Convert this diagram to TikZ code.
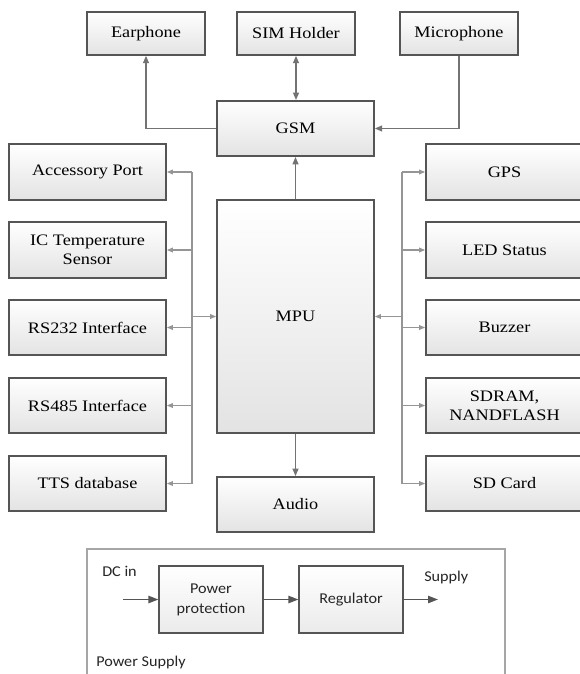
\documentclass[tikz,border=0pt]{standalone}
\usepackage{fontspec}
\usepackage{graphicx}
\setmainfont{Liberation Serif}
\newfontfamily\boxfont{Liberation Serif}
\newfontfamily\psfont{Carlito}
\newcommand\sx[1]{\scalebox{1.14}[1]{#1}}
\newcommand\px[1]{\scalebox{1.08}[1]{#1}}
\usetikzlibrary{arrows.meta}
\definecolor{bdr}{HTML}{555555}
\definecolor{linec}{HTML}{737373}
\definecolor{busc}{HTML}{959595}
\definecolor{frame}{HTML}{A6A6A6}
\definecolor{txt}{HTML}{000000}
\definecolor{pstxt}{HTML}{262626}
\tikzset{
  box/.style={draw=bdr, line width=1.3pt, top color=white, bottom color=black!11,
    text=txt, font=\boxfont\fontsize{12}{14.25}\selectfont, align=center, inner sep=0pt,
    minimum width=117.75pt, minimum height=41.5pt},
  topbox/.style={box, minimum width=88.5pt, minimum height=32.25pt},
  mpubox/.style={box, minimum height=174.75pt},
  psbox/.style={draw=bdr, line width=0.9pt, top color=white, bottom color=black!8,
    text=pstxt, font=\psfont\fontsize{11.25}{15}\selectfont, align=center, inner sep=0pt,
    minimum width=78pt, minimum height=50.25pt},
  psframe/.style={draw=frame, line width=0.8pt, fill=white, inner sep=0pt,
    minimum width=313.5pt, minimum height=98.25pt},
  pslabel/.style={text=pstxt, font=\psfont\fontsize{11.25}{15}\selectfont, inner sep=0pt},
  arr/.style={draw=linec, line width=0.9pt, -{Triangle[length=5.5pt,width=4.5pt]}},
  dblarr/.style={draw=linec, line width=0.9pt, {Triangle[length=5.5pt,width=4.5pt]}-{Triangle[length=5.5pt,width=4.5pt]}},
  busarr/.style={draw=busc, line width=0.9pt, -{Triangle[length=4.5pt,width=3.5pt]}},
  bus/.style={draw=busc, line width=0.9pt},
  psarr/.style={draw=bdr, line width=1.1pt, -{Triangle[length=7.5pt,width=5.5pt]}}
}
\begin{document}
\begin{tikzpicture}[x=0.75pt,y=-0.75pt]
\useasboundingbox (0,0) rectangle (580,674);
\clip (0,0) rectangle (580,674);

% top row
\node[topbox] (ear) at (146,33.5) {\sx{Earphone}};
\node[topbox] (sim) at (296,33.5) {\sx{SIM Holder}};
\node[topbox] (mic) at (459,33.5) {\sx{Microphone}};
\node[box] (gsm) at (295.5,128.5) {\sx{GSM}};

% left column
\node[box] (acc) at (87.5,172) {\sx{Accessory Port}};
\node[box] (ict) at (87.5,250) {\sx{IC Temperature}\\\sx{Sensor}};
\node[box] (rs2) at (87.5,327.5) {\sx{RS232 Interface}};
\node[box] (rs4) at (87.5,405.5) {\sx{RS485 Interface}};
\node[box] (tts) at (87.5,483.5) {\sx{TTS database}};

% right column
\node[box] (gps) at (504.5,172) {\sx{GPS}};
\node[box] (led) at (504.5,250) {\sx{LED Status}};
\node[box] (buz) at (504.5,327.5) {\sx{Buzzer}};
\node[box] (sdr) at (504.5,405.5) {\sx{SDRAM,}\\\sx{NANDFLASH}};
\node[box] (sdc) at (504.5,483.5) {\sx{SD Card}};

% centre
\node[mpubox] (mpu) at (295.5,316.5) {\sx{MPU}};
\node[box] (aud) at (295.5,504.5) {\sx{Audio}};

% top connectors
\draw[arr] (gsm.west) -| (ear.south);
\draw[dblarr] (sim.south) -- (sim.south |- gsm.north);
\draw[arr] (mic.south) |- (gsm.east);
\draw[arr] (mpu.north -| gsm.south) -- (gsm.south);
\draw[arr] (mpu.south) -- (aud.north);

% left bus
\coordinate (lb) at (192,0);
\draw[bus] (lb |- acc) -- (lb |- tts);
\foreach \n in {acc,ict,rs2,rs4,tts} \draw[busarr] (lb |- \n) -- (\n.east);
\draw[busarr] (lb |- mpu) -- (mpu.west);

% right bus
\coordinate (rb) at (402,0);
\draw[bus] (rb |- gps) -- (rb |- sdc);
\foreach \n in {gps,led,buz,sdr,sdc} \draw[busarr] (rb |- \n) -- (\n.west);
\draw[busarr] (rb |- mpu) -- (mpu.east);

% power supply
\node[psframe] (psf) at (296,614.5) {};
\node[psbox] (pp) at (211,599.5) {\px{Power}\\\px{protection}};
\node[psbox] (reg) at (351,599.5) {\px{Regulator}};
\coordinate (dcin) at (123,599.5);
\coordinate (sup) at (438,599.5);
\draw[psarr] (dcin) -- (pp.west);
\draw[psarr] (pp.east) -- (reg.west);
\draw[psarr] (reg.east) -- (sup);
\node[pslabel, anchor=west] (dcl) at (102,571) {\px{DC in}};
\node[pslabel, anchor=west] (supl) at (424,577) {\px{Supply}};
\node[pslabel, anchor=west] (psl) at (96,662) {\px{Power Supply}};
\end{tikzpicture}
\end{document}
